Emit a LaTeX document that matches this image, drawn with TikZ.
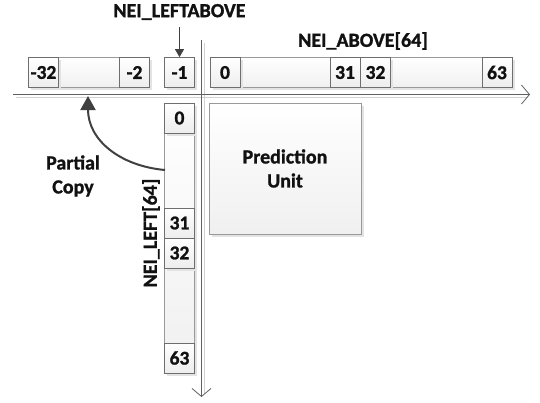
\documentclass[tikz,border=0pt]{standalone}
\usepackage{fontspec}
\setmainfont{Carlito}[BoldFont={Carlito Bold},BoldFeatures={FakeBold=1.2}]
\usetikzlibrary{arrows.meta,shadows}
\definecolor{ink}{HTML}{111111}
\definecolor{edge}{HTML}{6E6E6E}
\definecolor{curvecol}{HTML}{404040}
\tikzset{
  bar/.style={draw=edge!70, line width=0.6pt, top color=white, bottom color=gray!12, inner sep=0pt,
    drop shadow={shadow xshift=2.5pt, shadow yshift=-2.5pt, fill=gray!22, opacity=1}},
  cell/.style={draw=edge, line width=0.7pt, top color=white, bottom color=gray!14, inner sep=0pt,
    minimum width=30pt, minimum height=30pt, font=\bfseries\fontsize{19.5}{19.5}\selectfont, text=ink,
    drop shadow={shadow xshift=2.5pt, shadow yshift=-2.5pt, fill=gray!22, opacity=1}},
  lbl/.style={font=\bfseries\fontsize{20}{24}\selectfont, text=ink, align=center, inner sep=0pt},
  axisdark/.style={draw=gray!75!black, line width=0.9pt},
  axislight/.style={draw=gray!35, line width=0.9pt},
}
\begin{document}
\begin{tikzpicture}[x=1pt,y=-1pt]
\useasboundingbox (0,0) rectangle (540,402);
% axes
\coordinate (hs) at (13,94.5);
\coordinate (he) at (530,94.5);
\coordinate (vs) at (201.5,40);
\coordinate (ve) at (201.5,397);
\draw[axislight] (16,97.5) -- (528,97.5);
\draw[axislight] (204.5,43) -- (204.5,394);
\draw[axisdark, -{Straight Barb[length=8pt,width=19pt,line width=0.8pt]}] (hs) -- (he);
\draw[axisdark, -{Straight Barb[length=8pt,width=19pt,line width=0.8pt]}] (vs) -- (ve);
% left-above bar
\node[bar, minimum width=121pt, minimum height=30pt] (labar) at (88.5,72.5) {};
\node[cell] (m32) at (43.5,72.5) {-32};
\node[cell] (m2) at (134.5,72.5) {-2};
\node[cell] (m1) at (179.5,72.5) {-1};
% above bar
\node[bar, minimum width=302pt, minimum height=30pt] (abar) at (361,72.5) {};
\node[cell] (a0) at (225,72.5) {0};
\node[cell] (a31) at (345,72.5) {31};
\node[cell] (a32) at (375.5,72.5) {32};
\node[cell] (a63) at (497,72.5) {63};
% left bar
\node[bar, minimum width=30pt, minimum height=270pt] (lbar) at (179.5,238) {};
\node[cell] (l0) at (179.5,118) {0};
\node[cell] (l31) at (179.5,223) {31};
\node[cell] (l32) at (179.5,253) {32};
\node[cell] (l63) at (179.5,358) {63};
% prediction unit
\node[bar, minimum width=152pt, minimum height=131pt, lbl] (pu) at (285,168.5) {Prediction\\Unit};
% labels
\node[lbl] (tla) at (179.5,12) {NEI\_LEFTABOVE};
\node[lbl] (tab) at (363,41) {NEI\_ABOVE[64]};
\node[lbl, rotate=90] (tle) at (151,233) {NEI\_LEFT[64]};
\node[lbl] (pc) at (73,176) {Partial\\Copy};
% arrows
\draw[draw=curvecol, line width=0.8pt, -{Triangle[length=8pt,width=9pt]}] (tla.south |- 0,27) -- (m1.north);
\coordinate (cs) at (165,170);
\coordinate (ct) at (88,96);
\draw[draw=curvecol, line width=2pt, -{Triangle[length=14pt,width=15pt]}] (cs) .. controls (120,166) and (88,140) .. (ct);
\end{tikzpicture}
\end{document}
